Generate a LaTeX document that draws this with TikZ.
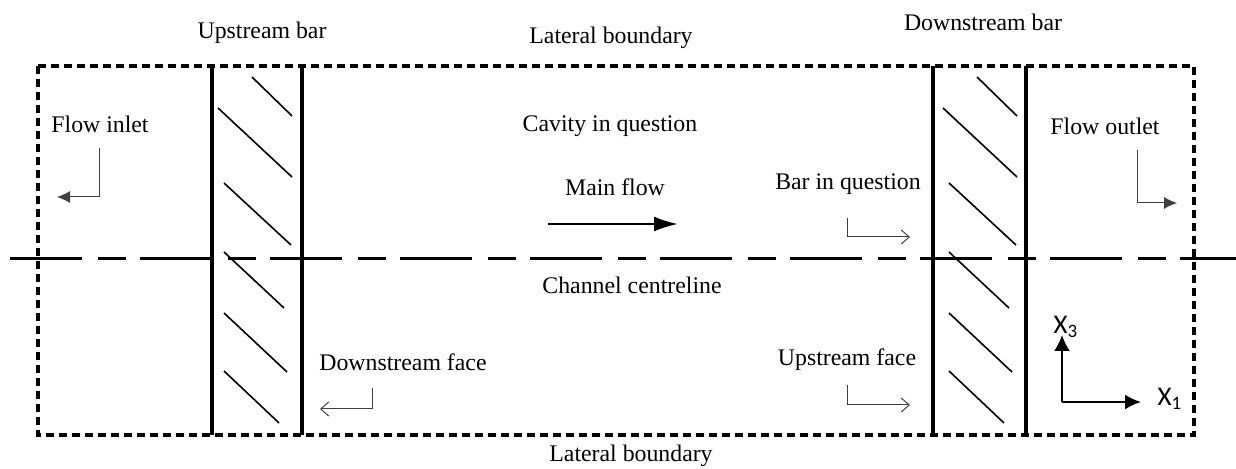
\documentclass[tikz,border=0pt]{standalone}
\usepackage{fontspec}
\setmainfont{Liberation Serif}
\newfontfamily\axisfont{Carlito}
\usetikzlibrary{arrows.meta}
\usetikzlibrary{positioning}
\tikzset{wall/.style = {line width=2pt, dash pattern=on 4pt off 2.5pt},
         barline/.style = {line width=2pt},
         hatch/.style = {line width=0.8pt},
         centre/.style = {line width=1.5pt,
                          dash pattern=on 36pt off 8pt on 14pt off 7pt},
         hint/.style = {draw=black!75, line width=0.5pt},
         openhint/.style = {hint, -{Straight Barb[length=4pt,width=7pt]}},
         fullhint/.style = {hint, -{Latex[length=6.5pt,width=6pt]}},
         lbl/.style = {font=\fontsize{11.9}{14}\selectfont, inner sep=0pt},
         axlbl/.style = {font=\axisfont\fontsize{13.5}{15}\selectfont, inner sep=0pt}}

\begin{document}
\begin{tikzpicture}[x=0.5pt, y=-0.5pt]
    \useasboundingbox (0,0) rectangle (1236,469);

    % channel boundary and centreline
    \coordinate (nw) at (38,66);
    \coordinate (se) at (1194,435);
    \draw [wall] (nw) rectangle (se);
    \coordinate (cl west) at (10,259);
    \coordinate (cl east) at (1236,259);
    \draw [centre] (cl west) -- (cl east);

    % the two bars, hatched
    \foreach \l/\r/\h in {212/302/0, 933/1026/4} {
      \draw [barline] (\l,66) -- (\l,435);
      \draw [barline] (\r,66) -- (\r,435);
      \begin{scope}[shift={(\l+\h,0)}]
        \draw [hatch] (40,77) -- (80,116);
        \draw [hatch] (6,108) -- (80,177);
        \draw [hatch] (12,183) -- (79,245);
        \draw [hatch] (12,252) -- (72,308);
        \draw [hatch] (12,313) -- (75,372);
        \draw [hatch] (12,371) -- (67,423);
      \end{scope}
    }

    % labels
    \node [lbl] (upbar) at (262,33) {Upstream bar};
    \node [lbl] (downbar) at (983,22) {Downstream bar};
    \node [lbl] (top) at (611,38) {Lateral boundary};
    \node [lbl] (bottom) at (631,456) {Lateral boundary};
    \node [lbl] (cavity) at (610,126) {Cavity in question};
    \node [lbl] (main) at (615,187) {Main flow};
    \node [lbl] (centreline) at (632,285) {Channel centreline};
    \node [lbl] (inlet) at (100,124) {Flow inlet};
    \node [lbl] (outlet) at (1105,126) {Flow outlet};
    \node [lbl] (barq) at (848,184) {Bar in question};
    \node [lbl] (upface) at (847,360) {Upstream face};
    \node [lbl] (downface) at (403,362) {Downstream face};

    % pointers
    \coordinate (inlet tail) at (99,148);
    \coordinate (inlet tip) at (57,197);
    \draw [fullhint] (inlet tail) |- (inlet tip);
    \coordinate (outlet tail) at (1137,150);
    \coordinate (outlet tip) at (1177,203);
    \draw [fullhint] (outlet tail) |- (outlet tip);
    \coordinate (barq tail) at (847,218);
    \coordinate (barq tip) at (910,237);
    \draw [openhint] (barq tail) |- (barq tip);
    \coordinate (upface tail) at (847,385);
    \coordinate (upface tip) at (910,405);
    \draw [openhint] (upface tail) |- (upface tip);
    \coordinate (downface tail) at (372,388);
    \coordinate (downface tip) at (320,409);
    \draw [openhint] (downface tail) |- (downface tip);

    \coordinate (flow start) at (548,224);
    \coordinate (flow end) at (678,224);
    \draw [line width=1.2pt, -{Latex[length=12pt,width=7.5pt]}] (flow start) -- (flow end);

    % axes
    \coordinate (origin) at (1062,402);
    \coordinate (x3 tip) at (1062,335);
    \coordinate (x1 tip) at (1141,402);
    \draw [line width=1pt, -{Latex[length=8pt,width=8pt]}] (origin) -- (x3 tip);
    \draw [line width=1pt, -{Latex[length=8pt,width=7.5pt]}] (origin) -- (x1 tip);
    \node [axlbl] (x3) at (1066,327) {X\textsubscript{3}};
    \node [axlbl] (x1) at (1170,399) {X\textsubscript{1}};
  \end{tikzpicture}
\end{document}
